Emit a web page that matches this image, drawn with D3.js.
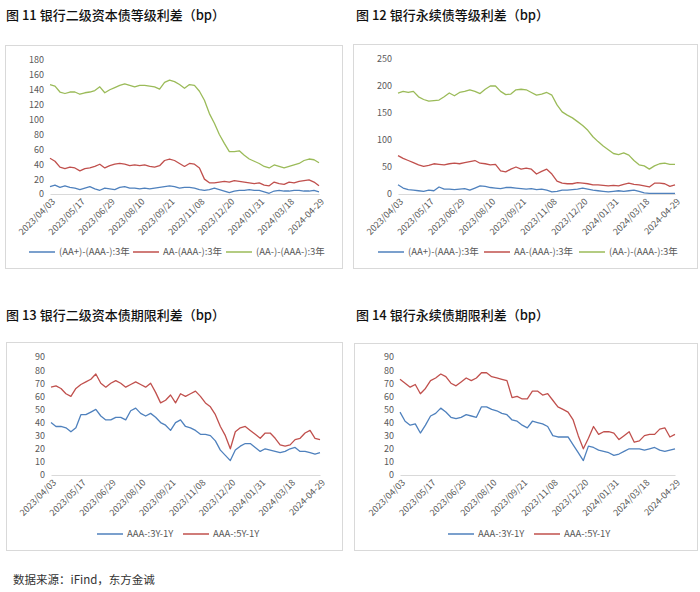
<!DOCTYPE html>
<html>
<head>
<meta charset="utf-8">
<script src="https://cdn.jsdelivr.net/npm/d3@7"></script>
<style>
  body { margin: 0; background: #fff; }
  text { font-family: "Noto Sans CJK SC", "Noto Sans", sans-serif; }
</style>
</head>
<body>
<svg id="chart" width="700" height="592"></svg>
<script>
// trading-day index of each sample, and of each labelled tick
var dayIndex = d3.range(0, 271, 5);
var tickIndex = d3.range(0, 271, 30);
var tickLabels = ["2023/04/03", "2023/05/17", "2023/06/29", "2023/08/10", "2023/09/21",
  "2023/11/08", "2023/12/20", "2024/01/31", "2024/03/18", "2024-04-29"];

// 图11 二级资本债等级利差
var tier2AAplus = [10, 12, 9, 11, 9, 8, 6, 8, 10, 7, 5, 8, 7, 6, 9, 10, 8, 8, 7, 8, 7, 8, 9, 10, 11, 10, 8, 9,
  9, 8, 6, 5, 6, 8, 6, 4, 2, 4, 5, 5, 6, 5, 5, 3, 1, 4, 5, 4, 4, 5, 5, 4, 4, 5, 3];
var tier2AA = [48, 44, 36, 34, 36, 35, 31, 34, 35, 37, 40, 35, 38, 40, 41, 40, 38, 39, 38, 39, 37, 36, 38, 45,
  47, 45, 41, 37, 41, 40, 35, 20, 15, 15, 16, 17, 16, 18, 17, 16, 15, 14, 15, 12, 11, 16, 14, 13, 16, 15,
  17, 18, 19, 16, 11];
var tier2AAminus = [147, 145, 137, 135, 137, 137, 134, 136, 137, 139, 144, 136, 140, 143, 146, 148, 146, 144,
  146, 146, 145, 144, 141, 150, 153, 151, 147, 142, 147, 146, 138, 126, 108, 95, 80, 68, 57, 57, 58, 52, 47,
  44, 41, 37, 35, 39, 37, 35, 37, 39, 41, 45, 47, 46, 42];

// 图12 永续债等级利差
var perpAAplus = [17, 11, 8, 7, 6, 5, 7, 6, 13, 9, 9, 8, 9, 10, 7, 11, 15, 14, 12, 11, 10, 12, 12, 11, 10, 9,
  10, 8, 9, 7, 4, 5, 7, 7, 8, 9, 11, 9, 7, 6, 5, 4, 5, 6, 5, 6, 7, 5, 2, 1, 1, 1, 1, 1, 1];
var perpAA = [71, 66, 62, 58, 54, 51, 53, 56, 55, 54, 56, 57, 56, 58, 60, 62, 57, 56, 54, 55, 43, 41, 46, 50,
  46, 48, 46, 37, 42, 46, 37, 24, 20, 19, 19, 21, 20, 19, 17, 17, 16, 15, 16, 15, 18, 20, 18, 17, 15, 13,
  20, 20, 19, 14, 17];
var perpAAminus = [187, 190, 188, 190, 180, 175, 172, 173, 174, 180, 187, 182, 188, 190, 193, 190, 186, 194,
  200, 200, 190, 184, 185, 193, 194, 193, 188, 183, 185, 188, 183, 165, 152, 146, 141, 134, 127, 118, 106,
  97, 89, 82, 75, 73, 76, 72, 62, 54, 52, 46, 52, 56, 57, 55, 55];

// 图13 二级资本债期限利差
var tier2Term3Y = [40, 37, 37, 36, 33, 36, 46, 46, 48, 50, 45, 42, 42, 44, 44, 42, 49, 51, 47, 45, 47, 44, 40,
  38, 34, 40, 42, 37, 36, 34, 31, 31, 30, 26, 19, 15, 11, 19, 22, 24, 24, 21, 18, 20, 19, 18, 17, 18, 20,
  21, 18, 18, 17, 16, 17];
var tier2Term5Y = [67, 68, 66, 62, 60, 66, 69, 71, 73, 77, 70, 67, 70, 72, 70, 67, 69, 71, 69, 67, 70, 63, 55,
  57, 61, 55, 62, 60, 62, 64, 60, 55, 52, 46, 37, 30, 20, 33, 36, 37, 34, 31, 28, 32, 32, 28, 23, 22, 23,
  27, 28, 32, 34, 28, 27];

// 图14 永续债期限利差
var perpTerm3Y = [48, 41, 38, 39, 32, 38, 45, 47, 51, 48, 44, 43, 44, 46, 45, 44, 52, 52, 50, 49, 47, 46, 42,
  41, 38, 36, 41, 40, 39, 37, 30, 29, 29, 29, 23, 17, 11, 22, 21, 19, 18, 17, 15, 16, 18, 20, 20, 20, 19,
  20, 21, 19, 18, 19, 20];
var perpTerm5Y = [73, 70, 67, 69, 62, 66, 72, 74, 77, 75, 70, 68, 71, 74, 72, 74, 78, 78, 75, 74, 73, 72, 59,
  60, 58, 58, 64, 64, 61, 62, 57, 52, 50, 48, 42, 30, 20, 28, 37, 31, 33, 33, 32, 27, 30, 33, 25, 26, 30,
  31, 31, 35, 36, 29, 31];

var blue = "#4F81BD", red = "#C0504D", green = "#9BBB59";

var panels = [
  {
    title: "图 11 银行二级资本债等级利差（bp）", tx: 6, ty: 20,
    box: [5, 45, 342, 268], xr: [50, 319], yr: [194, 60], ymax: 180, ystep: 20, ly: 252,
    series: [
      {name: "(AA+)-(AAA-):3年", values: tier2AAplus, color: blue, lx: 29},
      {name: "AA-(AAA-):3年", values: tier2AA, color: red, lx: 133},
      {name: "(AA-)-(AAA-):3年", values: tier2AAminus, color: green, lx: 226}
    ]
  },
  {
    title: "图 12 银行永续债等级利差（bp）", tx: 356, ty: 20,
    box: [353, 44, 697, 268], xr: [398, 675], yr: [194, 59], ymax: 250, ystep: 50, ly: 252,
    series: [
      {name: "(AA+)-(AAA-):3年", values: perpAAplus, color: blue, lx: 378},
      {name: "AA-(AAA-):3年", values: perpAA, color: red, lx: 484},
      {name: "(AA-)-(AAA-):3年", values: perpAAminus, color: green, lx: 579}
    ]
  },
  {
    title: "图 13 银行二级资本债期限利差（bp）", tx: 6, ty: 320,
    box: [6, 342, 342, 550], xr: [51, 320], yr: [475, 357], ymax: 90, ystep: 10, ly: 534,
    series: [
      {name: "AAA-:3Y-1Y", values: tier2Term3Y, color: blue, lx: 97},
      {name: "AAA-:5Y-1Y", values: tier2Term5Y, color: red, lx: 183}
    ]
  },
  {
    title: "图 14 银行永续债期限利差（bp）", tx: 356, ty: 320,
    box: [354, 343, 697, 550], xr: [400, 675], yr: [475, 357], ymax: 90, ystep: 10, ly: 534,
    series: [
      {name: "AAA-:3Y-1Y", values: perpTerm3Y, color: blue, lx: 448},
      {name: "AAA-:5Y-1Y", values: perpTerm5Y, color: red, lx: 534}
    ]
  }
];

var svg = d3.select("#chart");

function drawPanel(p) {
  var g = svg.append("g");

  g.append("text")
    .attr("x", p.tx)
    .attr("y", p.ty)
    .attr("font-size", 13)
    .attr("font-weight", 500)
    .attr("fill", "#111")
    .text(p.title);

  g.append("rect")
    .attr("x", p.box[0] + 0.5)
    .attr("y", p.box[1] + 0.5)
    .attr("width", p.box[2] - p.box[0])
    .attr("height", p.box[3] - p.box[1])
    .attr("fill", "#fff")
    .attr("stroke", "#D9D9D9");

  var x = d3.scaleLinear().domain([0, 270]).range(p.xr);
  var y = d3.scaleLinear().domain([0, p.ymax]).range(p.yr);

  // y labels only, no axis line or grid
  var yAxis = g.append("g")
    .attr("transform", "translate(" + p.xr[0] + ",0)")
    .call(d3.axisLeft(y).tickValues(d3.range(0, p.ymax + 1, p.ystep)).tickSize(0).tickPadding(6));
  yAxis.select(".domain").remove();
  yAxis.selectAll("text").attr("font-size", 9).attr("fill", "#595959")
    .style("font-family", "\"Noto Sans CJK SC\", sans-serif");

  // x axis line + rotated labels
  var xAxis = g.append("g")
    .attr("transform", "translate(0," + p.yr[0] + ")")
    .call(d3.axisBottom(x).tickValues(tickIndex).tickSize(0)
      .tickFormat(function(d, i) { return tickLabels[i]; }));
  xAxis.select(".domain").attr("stroke", "#D9D9D9");
  xAxis.selectAll("text")
    .attr("font-size", 9)
    .attr("fill", "#595959")
    .style("font-family", "\"Noto Sans CJK SC\", sans-serif")
    .attr("text-anchor", "end")
    .attr("dx", 0)
    .attr("dy", "0.35em")
    .attr("transform", "translate(3,6) rotate(-45)")
    .attr("y", 0);

  var line = d3.line()
    .x(function(d, i) { return x(dayIndex[i]); })
    .y(function(d) { return y(d); });

  p.series.forEach(function(s) {
    g.append("path")
      .datum(s.values)
      .attr("fill", "none")
      .attr("stroke", s.color)
      .attr("stroke-width", 1.3)
      .attr("stroke-linejoin", "round")
      .attr("d", line);

    g.append("line")
      .attr("x1", s.lx).attr("x2", s.lx + 26)
      .attr("y1", p.ly).attr("y2", p.ly)
      .attr("stroke", s.color)
      .attr("stroke-width", 1.5);

    g.append("text")
      .attr("x", s.lx + 30)
      .attr("y", p.ly)
      .attr("dy", "0.35em")
      .attr("font-size", 9.5)
      .attr("fill", "#595959")
      .text(s.name);
  });
}

panels.forEach(drawPanel);

svg.append("text")
  .attr("x", 13)
  .attr("y", 584)
  .attr("font-size", 11.5)
  .attr("fill", "#333")
  .text("数据来源：iFind，东方金诚");
</script>
</body>
</html>
